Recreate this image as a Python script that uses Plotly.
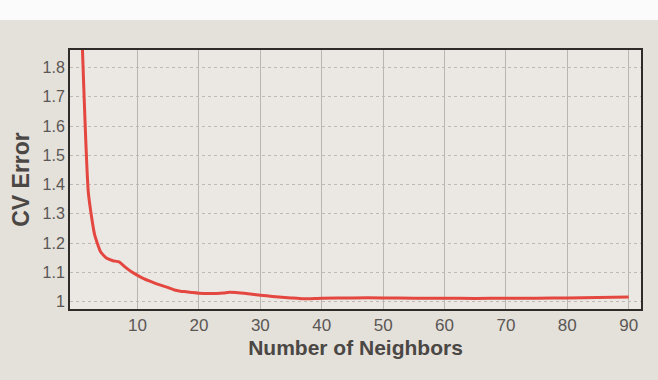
import plotly.graph_objects as go

# Cross-validated error as a function of the number of neighbours (k)
neighbors = [1, 2, 3, 4, 5, 6, 7, 8, 9, 10, 11, 12, 13, 14, 15, 16, 17, 18, 19, 20,
             22, 24, 25, 26, 28, 30, 32, 35, 37, 40, 45, 50, 55, 60, 65, 70, 75, 80, 85, 90]
cv_error = [1.88, 1.37, 1.23, 1.17, 1.148, 1.14, 1.136, 1.118, 1.102, 1.09, 1.079, 1.07,
            1.062, 1.055, 1.048, 1.04, 1.036, 1.034, 1.031, 1.029, 1.028, 1.03, 1.032,
            1.031, 1.027, 1.022, 1.018, 1.013, 1.01, 1.012, 1.013, 1.013, 1.012, 1.012,
            1.011, 1.012, 1.012, 1.013, 1.014, 1.016]

x_ticks = [10, 20, 30, 40, 50, 60, 70, 80, 90]
y_ticks = [1, 1.1, 1.2, 1.3, 1.4, 1.5, 1.6, 1.7, 1.8]

FONT = "Liberation Sans, Arial"

fig = go.Figure(
    go.Scatter(
        x=neighbors, y=cv_error, mode="lines",
        line=dict(color="#e4473f", width=3, shape="spline", smoothing=0.5),
        hoverinfo="skip",
    )
)

axis_common = dict(
    showline=True, linecolor="#2e2b29", linewidth=2, mirror=True,
    ticks="", zeroline=False,
)

fig.update_xaxes(
    range=[-1, 92], tickvals=x_ticks,
    tickfont=dict(family=FONT, size=17, color="#5a5754"),
    showgrid=True, gridcolor="#b9b5b0", gridwidth=1, griddash="solid",
    title=dict(text="<b>Number of Neighbors</b>", standoff=6,
               font=dict(family=FONT, size=21, color="#4a4744")),
    **axis_common,
)
fig.update_yaxes(
    range=[0.975, 1.86], tickvals=y_ticks,
    tickfont=dict(family=FONT, size=16, color="#5a5754"),
    showgrid=True, gridcolor="#bdb9b4", gridwidth=1, griddash="dot",
    title=dict(text="<b>CV Error</b>", standoff=6,
               font=dict(family=FONT, size=23, color="#4a4744")),
    **axis_common,
)

fig.update_layout(
    width=658, height=380,
    margin=dict(l=70, r=17, t=50, b=71),
    paper_bgcolor="#e4e0da",
    plot_bgcolor="#ebe8e4",
    showlegend=False,
    shapes=[dict(type="rect", xref="paper", yref="paper",
                 x0=-0.2, x1=1.2, y0=1.0 + 30 / 259, y1=1.3,
                 fillcolor="#fbfbfb", line=dict(width=0), layer="below")],
)

fig.write_html("out.html")
